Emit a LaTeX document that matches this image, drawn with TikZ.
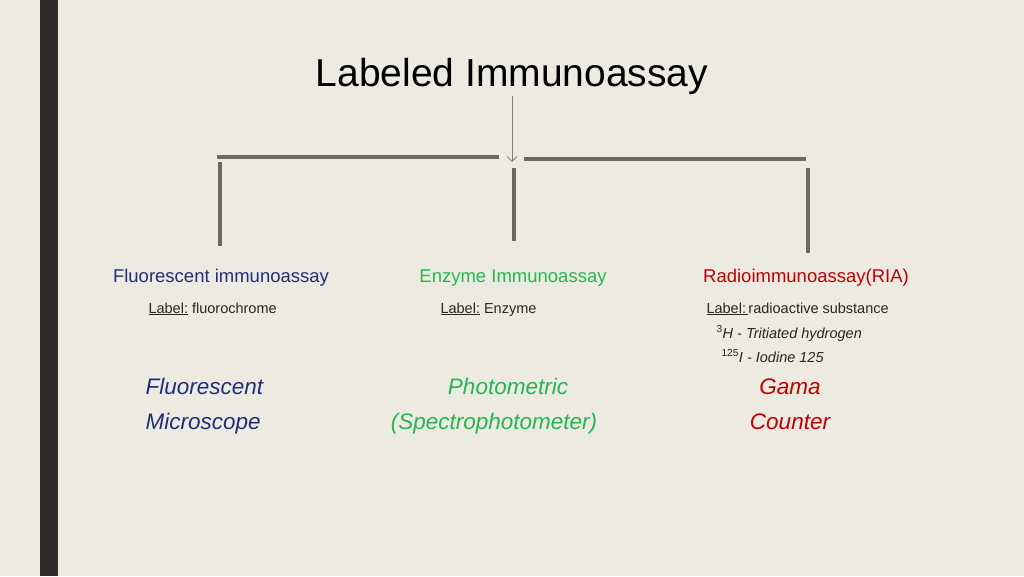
\documentclass[tikz,border=0pt]{standalone}
\usepackage{fontspec}
\usetikzlibrary{arrows.meta}
\setmainfont{Liberation Sans}
\begin{document}
\begin{tikzpicture}[x=1pt,y=-1pt,
  bar/.style={line width=3.5pt,draw=barc},
  head/.style={font=\fontsize{18.5}{22}\selectfont,anchor=base},
  lbl/.style={font=\fontsize{14.5}{17}\selectfont,anchor=base west,text=black!85},
  big/.style={font=\fontsize{22.5}{27}\selectfont\itshape,anchor=base}]
\definecolor{bg}{HTML}{EDEAE2}
\definecolor{barc}{HTML}{6B6A62}
\definecolor{cblue}{HTML}{1F2F7A}
\definecolor{cgreen}{HTML}{22B850}
\definecolor{cred}{HTML}{C00000}
\fill[bg] (0,0) rectangle (1024,576);
\useasboundingbox (0,0) rectangle (1024,576);
\fill[black!90!olive] (40,0) rectangle (58,576);
\node[font=\fontsize{39}{44}\selectfont,anchor=base] (title) at (512,86) {Labeled Immunoassay};
\coordinate (tb) at (512,96);
\coordinate (tt) at (512,162);
\draw[gray,line width=0.8pt,-{Straight Barb[length=5pt]}] (tb) -- (tt);
\coordinate (l1) at (217,157); \coordinate (l2) at (499,157);
\coordinate (r1) at (524,159); \coordinate (r2) at (806,159);
\draw[bar] (l1) -- (l2);
\draw[bar] (r1) -- (r2);
\coordinate (a1) at (220,162); \coordinate (a2) at (220,246);
\coordinate (b1) at (514,168); \coordinate (b2) at (514,241);
\coordinate (c1) at (808,168); \coordinate (c2) at (808,253);
\draw[bar] (a1) -- (a2);
\draw[bar] (b1) -- (b2);
\draw[bar] (c1) -- (c2);
\node[head,text=cblue] (h1) at (221,282) {Fluorescent immunoassay};
\node[head,text=cgreen] (h2) at (513,282) {Enzyme Immunoassay};
\node[head,text=cred] (h3) at (806,282) {Radioimmunoassay(RIA)};
\node[lbl] (la) at (145,313) {\underline{Label:} fluorochrome};
\node[lbl] (lb) at (437,313) {\underline{Label:} Enzyme};
\node[lbl] (lc) at (703,313) {\underline{Label:\,}radioactive substance};
\node[lbl,font=\fontsize{14.5}{17}\selectfont\itshape] (ld) at (713,338) {\textsuperscript{\upshape 3}H - Tritiated hydrogen};
\node[lbl,font=\fontsize{14.5}{17}\selectfont\itshape] (le) at (718,362) {\textsuperscript{\upshape 125}I - Iodine 125};
\node[big,text=cblue,anchor=base west] (f1) at (142,394) {Fluorescent};
\node[big,text=cblue,anchor=base west] (f2) at (142,429) {Microscope};
\node[big,text=cgreen] (g1) at (508,394) {Photometric};
\node[big,text=cgreen] (g2) at (494,429) {(Spectrophotometer)};
\node[big,text=cred] (r1n) at (790,394) {Gama};
\node[big,text=cred] (r2n) at (790,429) {Counter};
\end{tikzpicture}
\end{document}
